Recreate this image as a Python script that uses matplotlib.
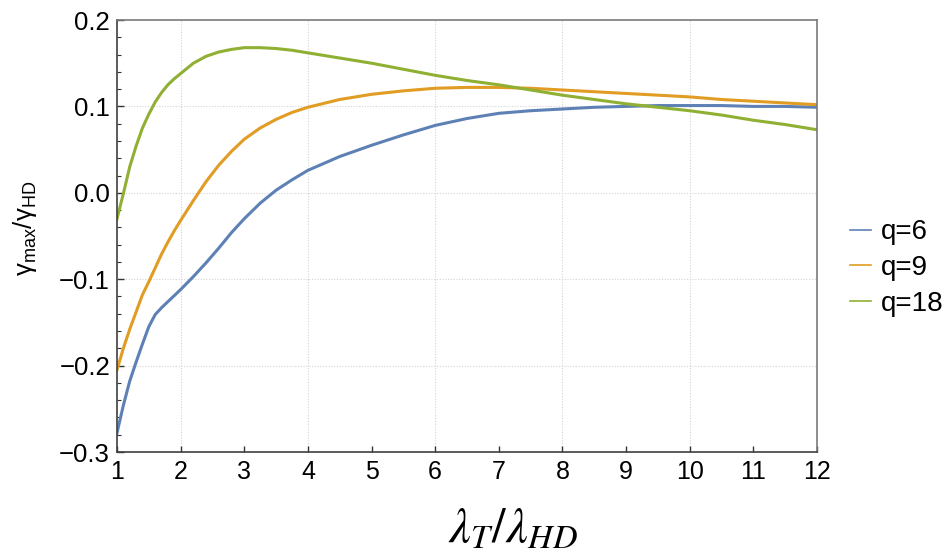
import matplotlib
matplotlib.use('Agg')
import matplotlib.pyplot as plt
from matplotlib.ticker import MultipleLocator, FuncFormatter

plt.rcParams['font.family'] = ['Liberation Sans', 'DejaVu Sans']

# values
lam = [1.0, 1.1, 1.2, 1.3, 1.4, 1.5, 1.6, 1.7, 1.8, 1.9, 2.0, 2.2, 2.4, 2.6, 2.8,
       3.0, 3.25, 3.5, 3.75, 4.0, 4.5, 5.0, 5.5, 6.0, 6.5, 7.0, 7.5, 8.0, 8.5,
       9.0, 9.5, 10.0, 10.5, 11.0, 11.5, 12.0]
q6 = [-0.278, -0.246, -0.218, -0.196, -0.175, -0.155, -0.141, -0.133, -0.126, -0.119,
      -0.112, -0.097, -0.081, -0.064, -0.046, -0.030, -0.012, 0.003, 0.015, 0.026,
      0.042, 0.055, 0.067, 0.078, 0.086, 0.092, 0.095, 0.097, 0.099, 0.100,
      0.101, 0.101, 0.101, 0.100, 0.100, 0.099]
q9 = [-0.205, -0.180, -0.158, -0.138, -0.118, -0.103, -0.087, -0.071, -0.057, -0.044,
      -0.032, -0.009, 0.013, 0.032, 0.048, 0.062, 0.075, 0.085, 0.093, 0.099,
      0.108, 0.114, 0.118, 0.121, 0.122, 0.122, 0.121, 0.119, 0.117, 0.115,
      0.113, 0.111, 0.108, 0.106, 0.104, 0.102]
q18 = [-0.030, -0.001, 0.030, 0.054, 0.075, 0.091, 0.105, 0.116, 0.125, 0.132,
       0.138, 0.150, 0.158, 0.163, 0.166, 0.168, 0.168, 0.167, 0.165, 0.162,
       0.156, 0.150, 0.143, 0.136, 0.130, 0.125, 0.119, 0.113, 0.108, 0.103,
       0.099, 0.095, 0.090, 0.084, 0.079, 0.073]
labels = ['q=6', 'q=9', 'q=18']
colors = ['#5E81B5', '#E19C24', '#8FB032']
x_grid = [2, 4, 6, 8, 10]
y_grid = [-0.2, -0.1, 0.0, 0.1]

fig = plt.figure(figsize=(9.48, 5.59), dpi=100)
ax = fig.add_axes([0.1234, 0.1914, 0.7384, 0.7728])

for gx in x_grid:
    ax.axvline(gx, color='#d4d4d4', lw=0.8, ls=(0, (1, 1.5)), zorder=0)
for gy in y_grid:
    ax.axhline(gy, color='#d4d4d4', lw=0.8, ls=(0, (1, 1.5)), zorder=0)

for ys, lab, c in zip([q6, q9, q18], labels, colors):
    ax.plot(lam, ys, color=c, lw=2.2, label=lab, solid_joinstyle='round')

ax.set_xlim(1, 12)
ax.set_ylim(-0.3, 0.2)
ax.xaxis.set_major_locator(MultipleLocator(1))
ax.yaxis.set_major_locator(MultipleLocator(0.1))
ax.yaxis.set_minor_locator(MultipleLocator(0.02))
ax.yaxis.set_major_formatter(FuncFormatter(lambda v, p: ('%.1f' % v).replace('-', '\u2212')))

ax.tick_params(axis='both', which='both', direction='in', colors='#333333', labelcolor='black')
ax.tick_params(axis='x', which='major', length=4, width=1, labelsize=18, pad=6)
ax.tick_params(axis='y', which='major', length=5, width=1, labelsize=18.5, pad=5)
ax.tick_params(axis='y', which='minor', length=3, width=0.8)

for side in ['left', 'bottom']:
    ax.spines[side].set_color('#404040')
    ax.spines[side].set_linewidth(1.2)
for side in ['top', 'right']:
    ax.spines[side].set_color('#7a7a7a')
    ax.spines[side].set_linewidth(1.2)

ax.set_xlabel(r'$\lambda_T/\lambda_{HD}$', fontsize=35, math_fontfamily='stix')
ax.xaxis.set_label_coords(0.566, -0.18)
ax.xaxis.label.set_va('center')
ax.set_ylabel(r'$\mathregular{\gamma_{max}/\gamma_{HD}}$', fontsize=18.5)
ax.yaxis.set_label_coords(-0.132, 0.518)
ax.yaxis.label.set_va('center')

leg = fig.legend(loc='center left', bbox_to_anchor=(0.885, 0.5206), frameon=False,
                 fontsize=20, handlelength=0.75, handletextpad=0.35, labelspacing=0.35,
                 borderaxespad=0)
for h in leg.get_lines():
    h.set_linewidth(1.2)

fig.savefig('out.png', dpi=100)
